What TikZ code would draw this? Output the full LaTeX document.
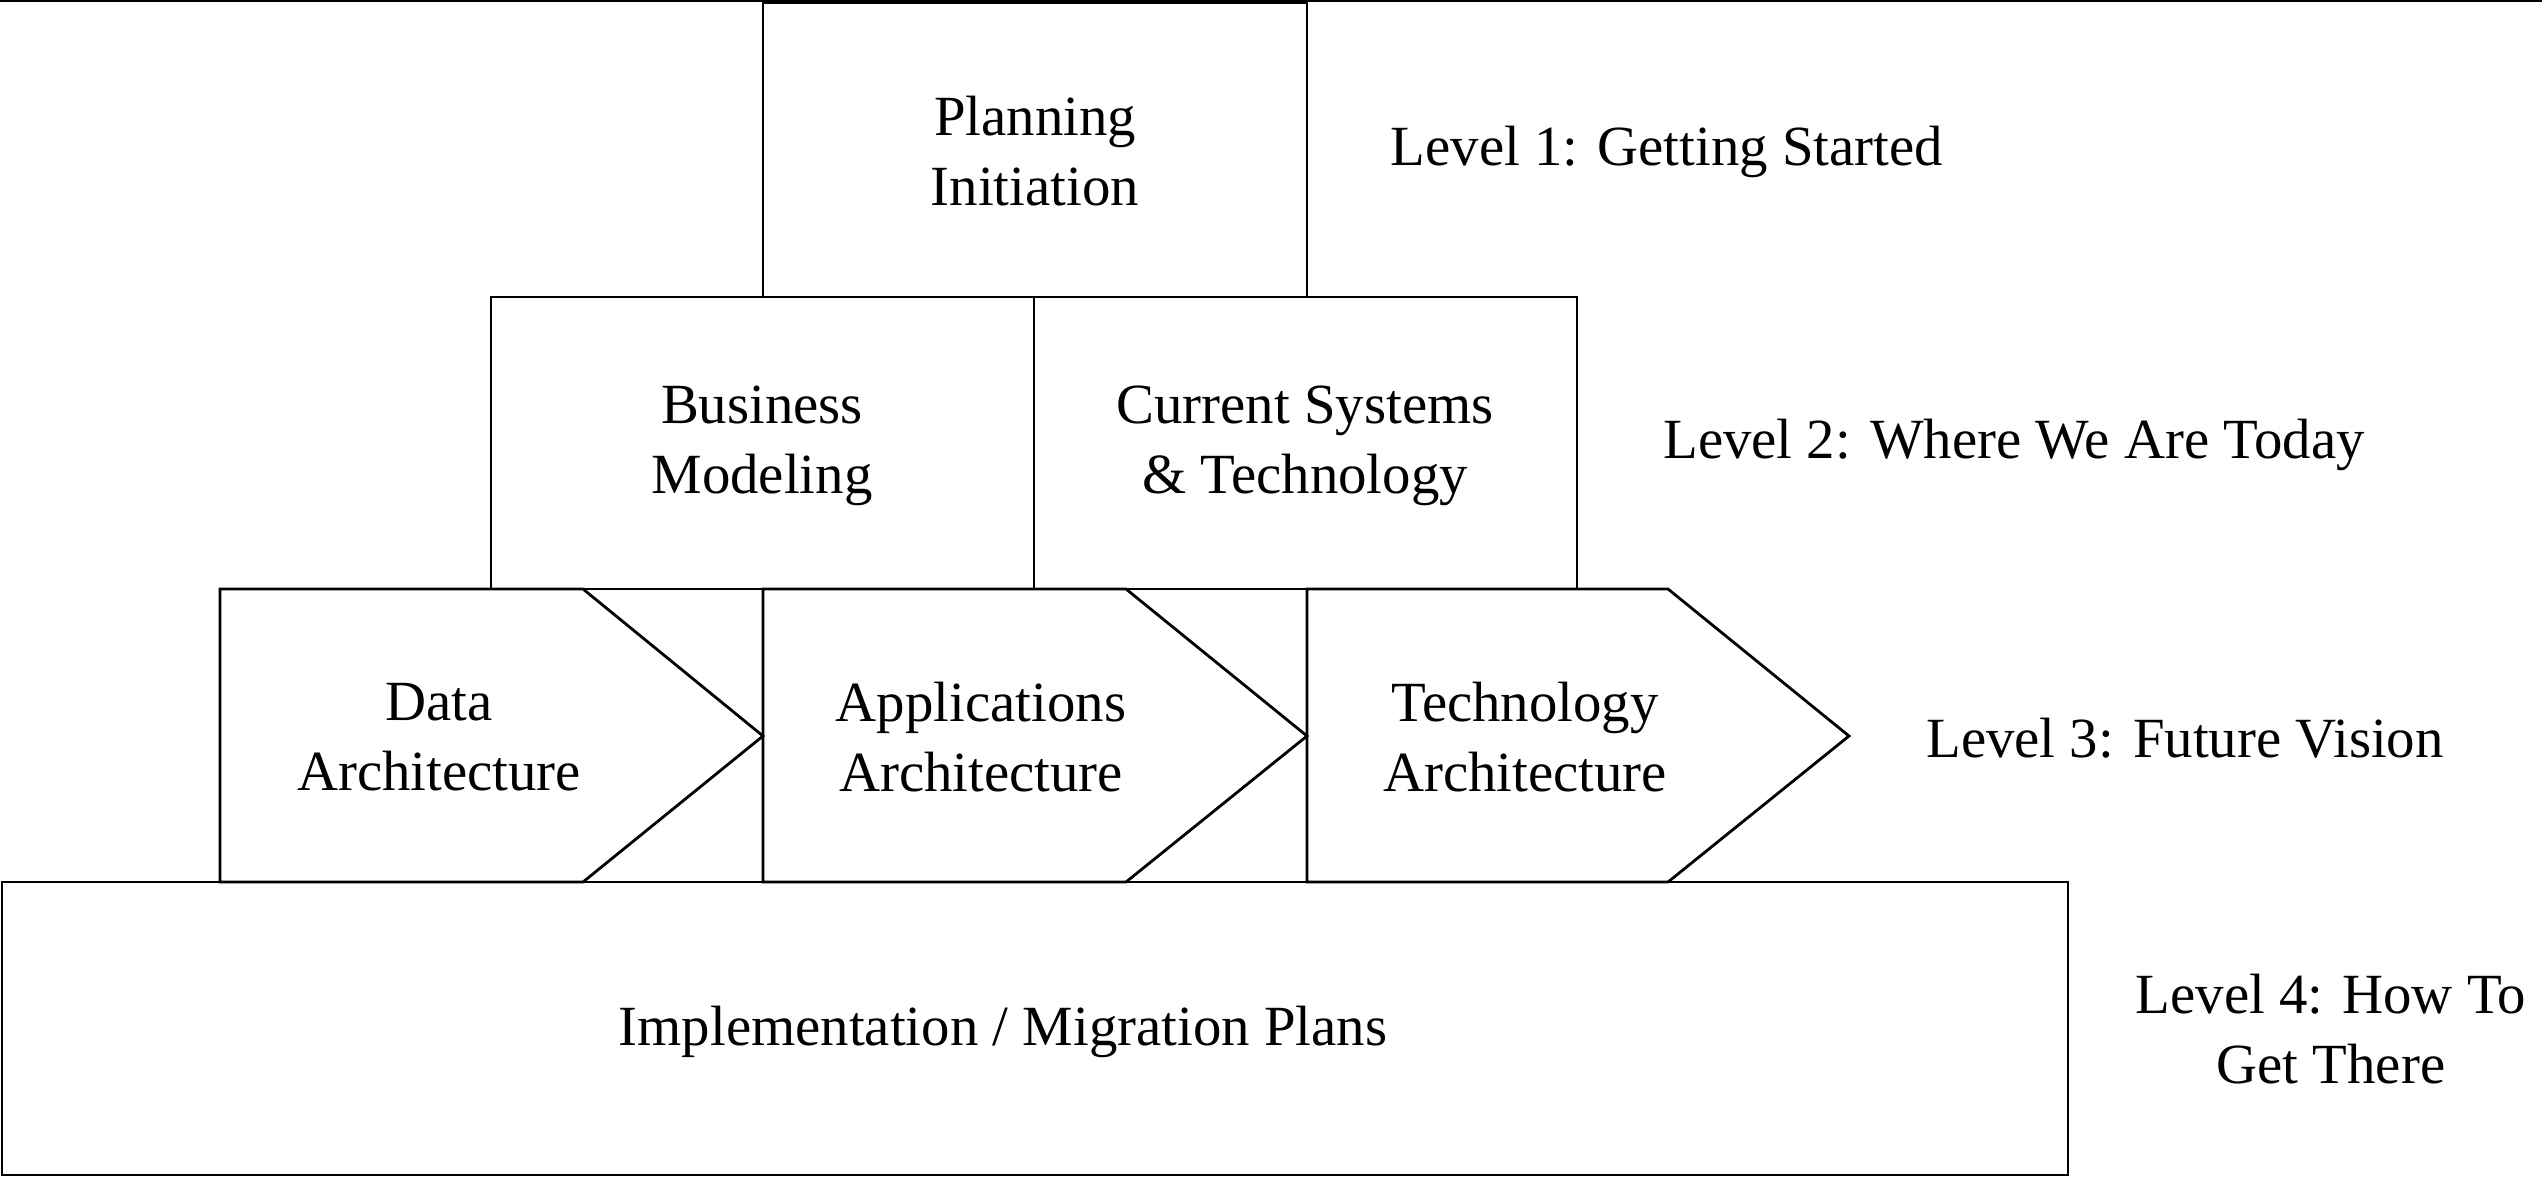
\documentclass[tikz,border=0pt]{standalone}
\usepackage{fontspec}
\setmainfont{Liberation Serif}
\begin{document}
\begin{tikzpicture}[x=0.25pt,y=-0.25pt,
  shp/.style={draw=black,line width=0.7pt,line join=miter},
  lbl/.style={align=center,inner sep=0pt,font=\fontsize{14.2}{17.5}\selectfont},
  lvl/.style={align=center,inner sep=0pt,font=\fontsize{14.2}{17.5}\selectfont}]
\useasboundingbox (0,0) rectangle (2542,1200);
% top rule
\coordinate (tl) at (0,1);
\coordinate (tr) at (2542,1);
\draw[shp] (tl) -- (tr);
% level 1
\draw[shp] (763,3) rectangle (1307,297);
\node[lbl] (plan) at (1035,151) {Planning\\Initiation};
\node[lvl] (l1) at (1667,152) {Level 1: Getting Started};
% level 2
\draw[shp] (491,297) rectangle (1034,589);
\draw[shp] (1034,297) rectangle (1577,589);
\node[lbl] (bus) at (762,446) {Business\\Modeling};
\node[lbl] (cur) at (1305,446) {Current Systems\\\& Technology};
\node[lvl] (l2) at (2014,445) {Level 2: Where We Are Today};
% level 3
\draw[shp] (220,589) -- (583,589) -- (763,736) -- (583,882) -- (220,882) -- cycle;
\draw[shp] (763,589) -- (1126,589) -- (1307,736) -- (1126,882) -- (763,882) -- cycle;
\draw[shp] (1307,589) -- (1668,589) -- (1849,736) -- (1668,882) -- (1307,882) -- cycle;
\node[lbl] (data) at (439,737) {Data\\Architecture};
\node[lbl] (apps) at (981,737) {Applications\\Architecture};
\node[lbl] (tech) at (1525,737) {Technology\\Architecture};
\node[lvl] (l3) at (2185,738) {Level 3: Future Vision};
% level 4
\draw[shp] (2,882) rectangle (2068,1175);
\node[lbl] (impl) at (1003,1032) {Implementation / Migration Plans};
\node[lvl] (l4) at (2331,1029) {Level 4: How To\\Get There};
\end{tikzpicture}
\end{document}
